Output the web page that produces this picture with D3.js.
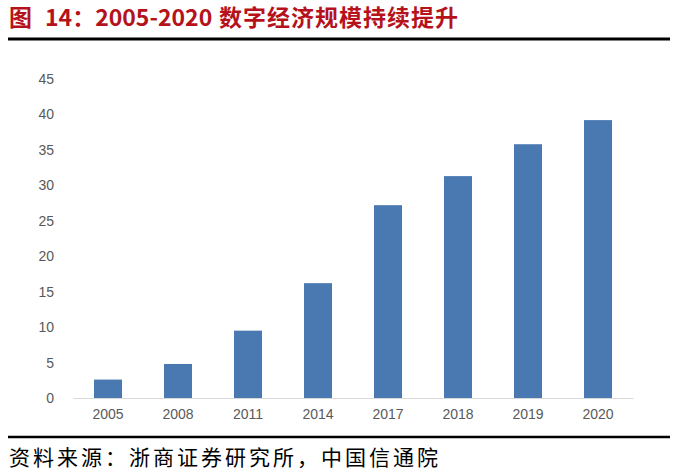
<!DOCTYPE html>
<html>
<head>
<meta charset="utf-8">
<script src="https://cdn.jsdelivr.net/npm/d3@7"></script>
<style>
  html, body { margin: 0; padding: 0; background: #fff; }
  svg { display: block; }
</style>
</head>
<body>
<svg id="chart" width="680" height="474"></svg>
<script>
"use strict";

// digital economy scale, trillion yuan
var years = ['2005', '2008', '2011', '2014', '2017', '2018', '2019', '2020'];
var scale_values = [2.6, 4.8, 9.5, 16.2, 27.2, 31.3, 35.8, 39.2];
var y_ticks = [0, 5, 10, 15, 20, 25, 30, 35, 40, 45];

var svg = d3.select('#chart');

// title with the black rule below it
var title = svg.append('text')
    .attr('y', 26)
    .style('font-family', '"Noto Sans CJK SC", sans-serif')
    .style('font-weight', 'bold')
    .style('font-size', '23px')
    .style('fill', '#b5121b');
title.append('tspan').attr('x', 9).text('图');
title.append('tspan').attr('x', 45).text('14：2005-2020');
title.append('tspan').attr('x', 219)
    .style('letter-spacing', '1px')
    .text('数字经济规模持续提升');

svg.append('line')
    .attr('x1', 8).attr('x2', 670)
    .attr('y1', 39).attr('y2', 39)
    .style('stroke', '#000')
    .style('stroke-width', 3);

// plot
var x = d3.scaleBand()
    .domain(years)
    .range([73, 633])
    .paddingInner(0.6)
    .paddingOuter(0.3);

var y = d3.scaleLinear()
    .domain([0, 45])
    .range([398, 79]);

svg.append('g')
    .selectAll('rect')
    .data(scale_values)
  .enter().append('rect')
    .attr('x', function(d, i) { return x(years[i]); })
    .attr('y', function(d) { return y(d); })
    .attr('width', x.bandwidth())
    .attr('height', function(d) { return y(0) - y(d); })
    .style('fill', '#4a78b0');

// y axis: labels only, no line
var y_axis = svg.append('g')
    .attr('transform', 'translate(54,0)')
    .call(d3.axisLeft(y).tickValues(y_ticks).tickSize(0).tickPadding(0));
y_axis.select('.domain').remove();
y_axis.selectAll('text')
    .style('font-family', '"Liberation Sans", Arial, sans-serif')
    .style('font-size', '14px')
    .style('fill', '#595959');

// x axis: light baseline, year labels
var x_axis = svg.append('g')
    .attr('transform', 'translate(0,' + y(0) + ')')
    .call(d3.axisBottom(x).tickSize(0).tickPadding(11));
x_axis.select('.domain')
    .style('stroke', '#d9d9d9')
    .style('stroke-width', 1);
x_axis.selectAll('text')
    .style('font-family', '"Liberation Sans", Arial, sans-serif')
    .style('font-size', '14px')
    .style('fill', '#595959');

// source note
svg.append('line')
    .attr('x1', 8).attr('x2', 670)
    .attr('y1', 437).attr('y2', 437)
    .style('stroke', '#000')
    .style('stroke-width', 2.5);

svg.append('text')
    .attr('x', 9)
    .attr('y', 465)
    .style('font-family', '"Noto Sans CJK SC", sans-serif')
    .style('font-size', '21px')
    .style('letter-spacing', '3px')
    .style('fill', '#000')
    .text('资料来源：浙商证券研究所，中国信通院');
</script>
</body>
</html>
